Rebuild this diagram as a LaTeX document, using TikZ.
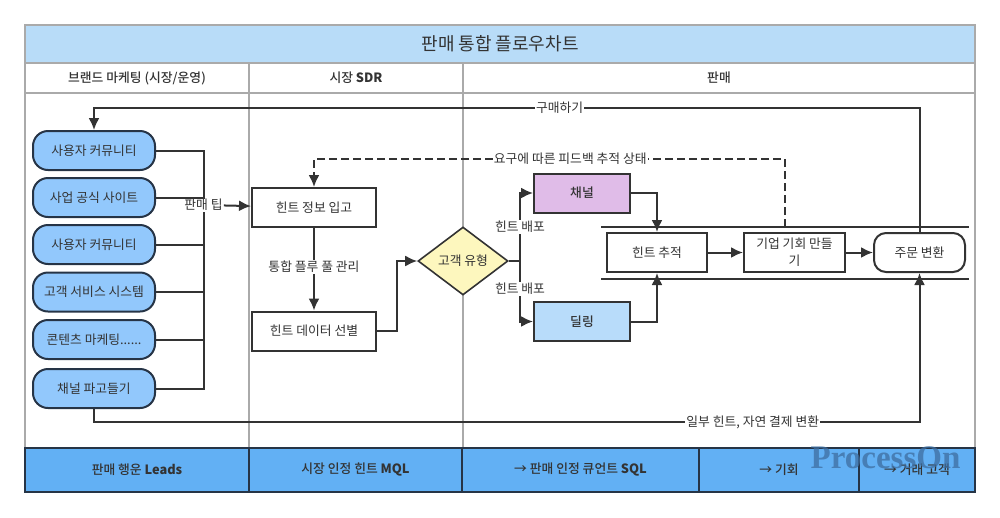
\documentclass[tikz,border=0pt]{standalone}
\usepackage{fontspec}
\setmainfont{Noto Sans CJK KR}
\newfontfamily\medfont{Noto Sans CJK KR Medium}
\newfontfamily\wmfont{Liberation Serif}
\usepackage{xcolor}
\usetikzlibrary{positioning,arrows.meta,shapes.geometric}
\definecolor{cInk}{RGB}{51,51,51}
\definecolor{cGrid}{RGB}{170,170,170}
\definecolor{cTitle}{RGB}{184,220,248}
\definecolor{cPill}{RGB}{146,200,252}
\definecolor{cFoot}{RGB}{98,176,244}
\definecolor{cEdge}{RGB}{38,52,70}
\definecolor{cChan}{RGB}{224,188,232}
\definecolor{cDeal}{RGB}{184,220,250}
\definecolor{cDec}{RGB}{253,247,190}
\definecolor{cMark}{RGB}{62,110,160}

\begin{document}
\begin{tikzpicture}[
   x=1pt,y=-1pt,
   txt/.style={font=\fontsize{12.8}{17}\selectfont,text=cInk},
   med/.style={font=\fontsize{12.8}{17}\selectfont\medfont,text=cInk},
   lane/.style={draw=cGrid,line width=1.6pt,inner sep=0pt,outer sep=0pt,txt},
   foot/.style={draw=cEdge,fill=cFoot,line width=1.4pt,minimum height=44pt,inner sep=0pt,outer sep=0pt,med},
   pill/.style={draw=cEdge,fill=cPill,line width=2pt,rounded corners=15pt,minimum width=122pt,minimum height=39pt,inner sep=0pt,txt},
   act/.style={draw=cInk,fill=white,line width=2pt,minimum height=39pt,inner sep=0pt,align=center,txt},
   lbl/.style={fill=white,inner sep=1pt,txt},
   flow/.style={draw=cInk,line width=2pt,-{Latex[length=12pt,width=11pt]}},
   link/.style={draw=cInk,line width=2pt}]
  \useasboundingbox (0,0) rectangle (1000,517);
  % title and header row
  \node[lane,fill=cTitle,minimum width=950pt,minimum height=38pt,font=\fontsize{18}{20}\selectfont] (title) at (500,44) {판매 통합 플로우차트};
  \node[lane,med,minimum width=224pt,minimum height=30pt] (h1) at (137,78) {브랜드 마케팅 (시장/운영)};
  \node[lane,med,minimum width=214pt,minimum height=30pt] (h2) at (356,78) {시장 \textbf{SDR}};
  \node[lane,med,minimum width=512pt,minimum height=30pt] (h3) at (719,78) {판매};
  % lanes body
  \node[lane,minimum width=224pt,minimum height=355pt] (b1) at (137,270.5) {};
  \node[lane,minimum width=214pt,minimum height=355pt] (b2) at (356,270.5) {};
  \node[lane,minimum width=512pt,minimum height=355pt] (b3) at (719,270.5) {};
  % bottom row
  \node[foot,minimum width=224pt] (f1) at (137,470) {판매 행운 \textbf{Leads}};
  \node[foot,minimum width=213pt] (f2) at (355.5,470) {시장 인정 힌트 \textbf{MQL}};
  \node[foot,minimum width=237pt] (f3) at (580.5,470) {→ 판매 인정 큐언트 \textbf{SQL}};
  \node[foot,minimum width=160pt] (f4) at (779,470) {→ 기회};
  \node[foot,minimum width=116pt] (f5) at (917,470) {→ 거래 고객};
  % rails around the sales steps
  \coordinate (railA) at (601,227);
  \coordinate (railB) at (969,227);
  \coordinate (railC) at (601,279);
  \coordinate (railD) at (969,279);
  \draw[link] (railA)--(railB);
  \draw[link] (railC)--(railD);
  % sources
  \foreach \i/\y/\t in {1/150.5/사용자 커뮤니티,2/197.5/사업 공식 사이트,3/244.5/사용자 커뮤니티,4/292/고객 서비스 시스템,5/339.5/{콘텐츠 마케팅......},6/388.5/채널 파고들기}
    \node[pill] (p\i) at (94,\y) {\t};
  % steps
  \node[act,minimum width=124pt] (hint) at (314,207.5) {힌트 정보 입고};
  \node[act,minimum width=124pt] (pick) at (314,331) {힌트 데이터 선별};
  \node[draw=cInk,fill=cDec,line width=1.6pt,diamond,aspect=1.32,minimum width=90pt,minimum height=68pt,inner sep=0pt,txt] (kind) at (463,261) {고객 유형};
  \node[act,med,fill=cChan,minimum width=96pt] (chan) at (582,193) {채널};
  \node[act,med,fill=cDeal,minimum width=96pt] (deal) at (582,321.5) {딜링};
  \node[act,minimum width=100pt] (track) at (657,252.5) {힌트 추적};
  \node[act,minimum width=101pt] (opp) at (794.5,252.5) {기업 기회 만들\\기};
  \node[act,rounded corners=12pt,minimum width=91pt] (order) at (919.5,252.5) {주문 변환};
  \node[lbl] (tip) at (203.5,205) {판매 팁};
  % sources->tip
  \foreach \i in {1,...,6}
    \draw[link] (p\i.east) -| (tip);
  \draw[flow] (tip)--(hint);
  % left lanes
  \draw[flow] (hint)-- node[lbl,pos=.47] (pool) {통합 플루 풀 관리} (pick);
  \coordinate (up) at (397,331);
  \draw[flow] (pick.east)--(up) |- (kind.west);
  % split
  \coordinate (split) at (520,261);
  \draw[flow] (kind.east)--(split) |- node[lbl,pos=.25] (dist1) {힌트 배포} (chan.west);
  \draw[flow] (kind.east)--(split) |- node[lbl,pos=.23] (dist2) {힌트 배포} (deal.west);
  \draw[flow] (chan.east) -| (track.north);
  \draw[flow] (deal.east) -| (track.south);
  \draw[flow] (track)--(opp);
  \draw[flow] (opp)--(order);
  % feedback
  \coordinate (fbA) at (785,227);
  \coordinate (fbB) at (785,159);
  \coordinate (fbC) at (hint.north |- fbB);
  \draw[flow,dashed,dash pattern=on 8pt off 4pt] (fbA)--(fbB)-- node[lbl,pos=.456] (need) {요구에 따른 피드백 추적 상태} (fbC)--(hint.north);
  % long loops
  \coordinate (buyA) at (order.north |- 0,108);
  \coordinate (buyB) at (p1.north |- 0,108);
  \draw[flow] (order.north)--(buyA)-- node[lbl,pos=.436] (buy) {구매하기} (buyB)--(p1.north);
  \coordinate (payA) at (p6.south |- 0,422);
  \coordinate (payB) at (order.south |- 0,422);
  \draw[flow] (p6.south)--(payA)-- node[lbl,pos=.798] (pay) {일부 힌트, 자연 결제 변환} (payB)--(order.south);
  % watermark
  \node[text=cMark,opacity=.75,inner sep=0pt,font=\fontsize{33}{35}\selectfont\wmfont\bfseries] (mark) at (885.5,458) {ProcessOn};
\end{tikzpicture}
\end{document}
